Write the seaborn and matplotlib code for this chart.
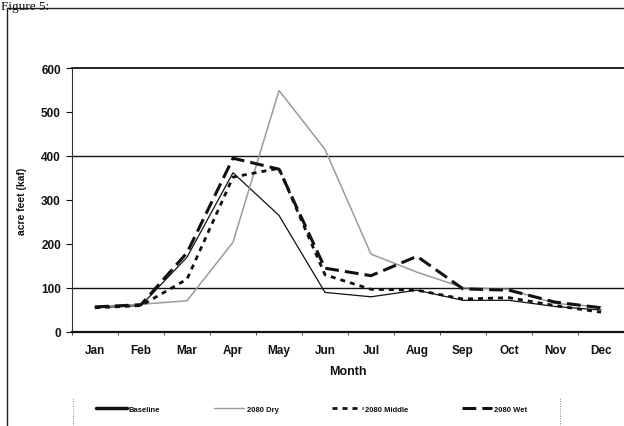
import numpy as np
import pandas as pd
import seaborn as sns
import matplotlib
matplotlib.use("Agg")
import matplotlib.pyplot as plt
from matplotlib.lines import Line2D

months = ["Jan", "Feb", "Mar", "Apr", "May", "Jun", "Jul", "Aug", "Sep", "Oct", "Nov", "Dec"]
baseline = [55, 60, 170, 362, 265, 90, 80, 95, 72, 72, 58, 50]
dry_2080 = [58, 63, 71, 204, 549, 415, 177, 136, 101, 97, 65, 57]
middle_2080 = [55, 60, 120, 352, 372, 130, 97, 95, 75, 78, 60, 45]
wet_2080 = [57, 62, 180, 395, 370, 145, 128, 172, 98, 95, 68, 55]
series_names = ["Baseline", "2080 Dry", "2080 Middle", "2080 Wet"]
y_ticks = [0, 100, 200, 300, 400, 500, 600]
grid_values = [100, 400]

sns.set_theme(style="white")
plt.rcParams["font.family"] = ["Liberation Sans", "DejaVu Sans"]

df = pd.DataFrame({
    "Month": months * 4,
    "value": baseline + dry_2080 + middle_2080 + wet_2080,
    "series": sum([[n] * 12 for n in series_names], []),
})

W, H = 624, 427
fig = plt.figure(figsize=(W / 100, H / 100), dpi=100)
ax = fig.add_axes([72 / W, 1 - 333 / H, 552 / W, 264 / H])

palette = {"Baseline": "#111111", "2080 Dry": "#9a9a9a",
           "2080 Middle": "#111111", "2080 Wet": "#111111"}
dashes = {"Baseline": "", "2080 Dry": "", "2080 Middle": (1.8, 1.8), "2080 Wet": (4.5, 2.0)}
sns.lineplot(data=df, x="Month", y="value", hue="series", style="series",
             palette=palette, dashes=dashes, sort=False, ax=ax, legend=False,
             hue_order=series_names, style_order=series_names)

widths = {"Baseline": 0.9, "2080 Dry": 1.1, "2080 Middle": 2.0, "2080 Wet": 2.2}
for line, name in zip(ax.lines, series_names):
    line.set_linewidth(widths[name])
    line.set_solid_joinstyle("miter")

for gv in grid_values:
    ax.axhline(gv, color="#111111", lw=1.0, zorder=0)

ax.set_xlim(-0.5, len(months) - 0.5)
ax.set_ylim(0, 600)
ax.set_yticks(y_ticks)
ax.set_xticks(range(len(months)))
ax.set_xticklabels(months)
ax.set_xticks(np.arange(-0.5, len(months), 1.0), minor=True)
ax.tick_params(axis="x", which="major", length=0, pad=9, labelsize=8.5)
ax.tick_params(axis="x", which="minor", length=2.5, width=0.6, color="#333333", direction="out", bottom=True)
ax.tick_params(axis="y", length=4, width=0.8, color="#111111", left=True, pad=4, labelsize=8.5)
for lbl in ax.get_xticklabels() + ax.get_yticklabels():
    lbl.set_fontweight("bold")
    lbl.set_color("#111111")

ax.set_xlabel("Month", fontsize=9, fontweight="bold", color="#111111", labelpad=6)
ax.set_ylabel("acre feet (kaf)", fontsize=7.5, fontweight="bold", color="#111111", labelpad=10)

ax.spines["right"].set_visible(False)
ax.spines["top"].set_color("#111111")
ax.spines["top"].set_linewidth(1.3)
ax.spines["bottom"].set_color("#111111")
ax.spines["bottom"].set_linewidth(1.6)
ax.spines["left"].set_color("#333333")
ax.spines["left"].set_linewidth(0.8)

# legend
handles = []
for line, name in zip(ax.lines, series_names):
    lw = {"Baseline": 2.5, "2080 Dry": 1.0, "2080 Middle": 2.0, "2080 Wet": 2.2}[name]
    handles.append(Line2D([], [], color=line.get_color(), lw=lw,
                          linestyle=line.get_linestyle(),
                          dashes=dashes[name] if dashes[name] else (None, None)))
leg = fig.legend(handles, series_names, ncol=4, frameon=False, fontsize=5.5,
                 loc="center left", bbox_to_anchor=(96 / W, 1 - 410 / H),
                 handlelength=4.0, handletextpad=0.3, columnspacing=7.0,
                 borderaxespad=0, borderpad=0)
for t in leg.get_texts():
    t.set_fontweight("bold")
    t.set_color("#111111")

# legend box sides (dotted)
for xp in (73, 560):
    fig.add_artist(Line2D([xp / W, xp / W], [0, 1 - 398 / H], transform=fig.transFigure,
                          color="#888888", lw=0.7, linestyle=(0, (1, 1.5))))

# figure frame (scanned page)
fig.add_artist(Line2D([7 / W, 7 / W], [0, 1 - 9 / H], transform=fig.transFigure,
                      color="#222222", lw=1.0))
fig.add_artist(Line2D([7 / W, 1], [1 - 9 / H, 1 - 9 / H], transform=fig.transFigure,
                      color="#222222", lw=1.0))
fig.text(1 / W, 1 - 1 / H, "Figure 5:", fontsize=9.5, family=["Liberation Serif", "DejaVu Serif"],
         va="top", ha="left", color="#111111")

fig.savefig("out.png", dpi=100)
